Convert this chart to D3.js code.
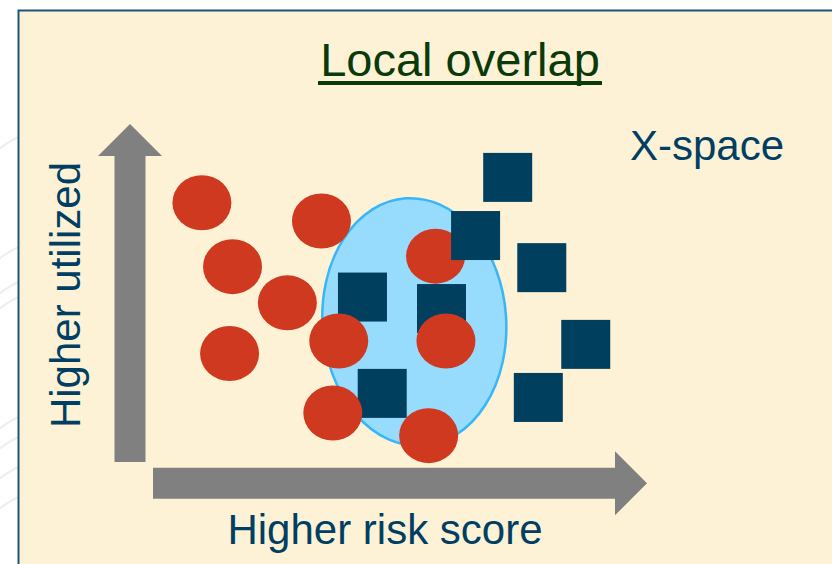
<!DOCTYPE html>
<html>
<head>
<meta charset="utf-8">
<script src="https://cdn.jsdelivr.net/npm/d3@7"></script>
<style>
  html, body { margin: 0; padding: 0; background: #ffffff; }
  svg { display: block; }
</style>
</head>
<body>
<script>
// ---- Data (values in arbitrary 0-100 units of risk score / utilization) ----
const title = "Local overlap";
const spaceLabel = "X-space";
const xLabel = "Higher risk score";
const yLabel = "Higher utilized";

// Red circles: [risk score, utilization]
const circleX = [9.9, 16.1, 27.2, 15.5, 34.1, 57.2, 37.6, 59.3, 36.4, 55.8];
const circleY = [76.7, 57.8, 47.1, 32.1, 71.3, 60.9, 35.8, 35.8, 14.5, 7.8];

// Dark blue squares inside the overlap region (drawn beneath the circles)
const innerSquareX = [42.4, 58.4, 46.4];
const innerSquareY = [48.8, 45.4, 20.3];

// Dark blue squares outside/at the edge (drawn above the circles)
const outerSquareX = [71.8, 65.3, 78.7, 87.6, 78.0];
const outerSquareY = [84.2, 67.0, 57.5, 34.8, 19.1];

// Overlap region: center and radii in data units
const overlapCenter = [52.9, 41.4];
const overlapRadius = [18.6, 36.7];

// ---- Layout ----
const W = 832, H = 564;
const svg = d3.select("body").append("svg").attr("width", W).attr("height", H);

const x = d3.scaleLinear().domain([0, 100]).range([153, 647]);
const y = d3.scaleLinear().domain([0, 100]).range([462, 124]);
const kx = (x(100) - x(0)) / 100;
const ky = (y(0) - y(100)) / 100;

// faint decorative swooshes on the white slide background (left margin)
const sw = svg.append("g").attr("fill", "none").attr("stroke", "#eeeeee").attr("stroke-width", 2);
[140, 250, 285, 300, 420, 440, 470, 500].forEach(b => {
  sw.append("path").attr("d", `M -5 ${b + 12} Q 10 ${b} 25 ${b - 6}`);
});

// panel
svg.append("rect")
  .attr("x", 18.5).attr("y", 10.5)
  .attr("width", W + 20).attr("height", H + 20)
  .attr("fill", "#FEF2D6")
  .attr("stroke", "#1B5678").attr("stroke-width", 2);

// title
svg.append("text")
  .attr("x", 460).attr("y", 76)
  .attr("text-anchor", "middle")
  .attr("font-family", "Liberation Sans, Arial, sans-serif")
  .attr("font-size", 47)
  .attr("fill", "#0A3A0A")
  .text(title);
svg.append("rect")
  .attr("x", 318).attr("y", 81).attr("width", 284).attr("height", 4)
  .attr("fill", "#0A3A0A");

// X-space
svg.append("text")
  .attr("x", 707).attr("y", 160)
  .attr("text-anchor", "middle")
  .attr("font-family", "Liberation Sans, Arial, sans-serif")
  .attr("font-size", 42)
  .attr("fill", "#003F63")
  .text(spaceLabel);

// axis arrows
const arrowColor = "#808080";
const shaft = 31, headHalf = 32, headLen = 32;
// vertical (y) arrow
const vx = 130;
svg.append("path")
  .attr("d", (() => {
    const p = d3.path();
    p.moveTo(vx - shaft / 2, y(0));
    p.lineTo(vx - shaft / 2, y(100) + headLen);
    p.lineTo(vx - headHalf, y(100) + headLen);
    p.lineTo(vx, y(100));
    p.lineTo(vx + headHalf, y(100) + headLen);
    p.lineTo(vx + shaft / 2, y(100) + headLen);
    p.lineTo(vx + shaft / 2, y(0));
    p.closePath();
    return p.toString();
  })())
  .attr("fill", arrowColor);
// horizontal (x) arrow
const hy = 483.3;
svg.append("path")
  .attr("d", (() => {
    const p = d3.path();
    p.moveTo(x(0), hy - shaft / 2);
    p.lineTo(x(100) - headLen, hy - shaft / 2);
    p.lineTo(x(100) - headLen, hy - headHalf);
    p.lineTo(x(100), hy);
    p.lineTo(x(100) - headLen, hy + headHalf);
    p.lineTo(x(100) - headLen, hy + shaft / 2);
    p.lineTo(x(0), hy + shaft / 2);
    p.closePath();
    return p.toString();
  })())
  .attr("fill", arrowColor);

// axis labels
svg.append("text")
  .attr("x", 385).attr("y", 544)
  .attr("text-anchor", "middle")
  .attr("font-family", "Liberation Sans, Arial, sans-serif")
  .attr("font-size", 42)
  .attr("fill", "#003F63")
  .text(xLabel);
svg.append("text")
  .attr("transform", "translate(80,295) rotate(-90)")
  .attr("text-anchor", "middle")
  .attr("font-family", "Liberation Sans, Arial, sans-serif")
  .attr("font-size", 42)
  .attr("fill", "#003F63")
  .text(yLabel);

// overlap ellipse
const ecx = x(overlapCenter[0]), ecy = y(overlapCenter[1]);
svg.append("ellipse")
  .attr("cx", ecx).attr("cy", ecy)
  .attr("rx", overlapRadius[0] * kx).attr("ry", overlapRadius[1] * ky)
  .attr("transform", `rotate(-4 ${ecx} ${ecy})`)
  .attr("fill", "#97DBFD")
  .attr("stroke", "#38B6F7").attr("stroke-width", 2.5);

const sq = 49;
const squareColor = "#013F5F";
function drawSquares(xs, ys) {
  svg.append("g").selectAll("rect")
    .data(d3.zip(xs, ys))
    .join("rect")
    .attr("x", d => x(d[0]) - sq / 2)
    .attr("y", d => y(d[1]) - sq / 2)
    .attr("width", sq).attr("height", sq)
    .attr("fill", squareColor);
}

drawSquares(innerSquareX, innerSquareY);

svg.append("g").selectAll("ellipse")
  .data(d3.zip(circleX, circleY))
  .join("ellipse")
  .attr("cx", d => x(d[0]))
  .attr("cy", d => y(d[1]))
  .attr("rx", 29.5).attr("ry", 27.5)
  .attr("fill", "#CF391F");

drawSquares(outerSquareX, outerSquareY);
</script>
</body>
</html>
